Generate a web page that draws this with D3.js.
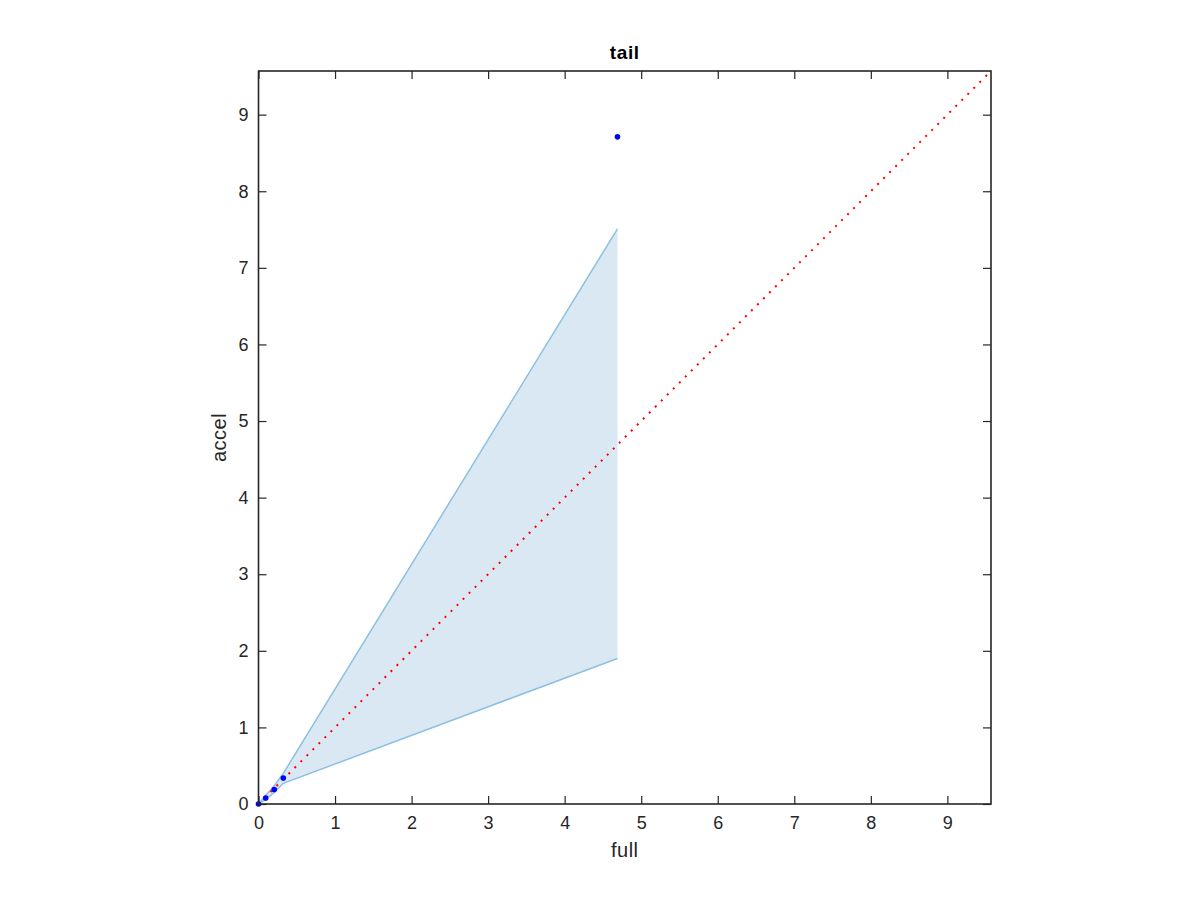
<!DOCTYPE html>
<html><head><meta charset="utf-8">
<script src="https://cdn.jsdelivr.net/npm/d3@7"></script>
<style>body{margin:0;background:#fff;} text{font-family:"Liberation Sans",Arial,Helvetica,sans-serif;}</style>
</head><body><svg id="c" width="1200" height="900"></svg>
<script>
const title = "tail";
const xLabel = "full";
const yLabel = "accel";
const axisMax = 9.57;
const tickValues = [0,1,2,3,4,5,6,7,8,9];
// scatter points
const pointX = [0, 0.094, 0.206, 0.324, 4.69];
const pointY = [0, 0.078, 0.19, 0.34, 8.71];
// band bounds
const bandX = [0, 0.094, 0.206, 0.324, 4.69];
const bandUpper = [0, 0.11, 0.24, 0.40, 7.51];
const bandLower = [0, 0.06, 0.15, 0.27, 1.90];

const svg = d3.select("#c");
const L = 258.5, R = 991, T = 71, B = 804;
const x = d3.scaleLinear().domain([0, axisMax]).range([L, R]);
const y = d3.scaleLinear().domain([0, axisMax]).range([B, T]);
const axisCol = "#262626";

// band fill
const bandPts = bandX.map((v,i)=>[v, bandUpper[i]]).concat(bandX.map((v,i)=>[v, bandLower[i]]).reverse());
svg.append("path")
  .attr("d", d3.line().x(d=>x(d[0])).y(d=>y(d[1]))(bandPts) + "Z")
  .attr("fill", "#dae8f4").attr("stroke", "none");
const edge = d3.line().x(d=>x(d[0])).y(d=>y(d[1]));
svg.append("path").attr("d", edge(bandX.map((v,i)=>[v,bandUpper[i]])))
  .attr("fill","none").attr("stroke","#8cc0e0").attr("stroke-width",1.5);
svg.append("path").attr("d", edge(bandX.map((v,i)=>[v,bandLower[i]])))
  .attr("fill","none").attr("stroke","#8cc0e0").attr("stroke-width",1.5);

// identity dotted line
svg.append("path").attr("d", edge([[0,0],[axisMax,axisMax]]))
  .attr("fill","none").attr("stroke","#ff0000").attr("stroke-width",2)
  .attr("stroke-dasharray","2,6.5");

// points
svg.selectAll("circle.p").data(pointX.map((v,i)=>[v,pointY[i]])).enter()
  .append("circle").attr("cx",d=>x(d[0])).attr("cy",d=>y(d[1])).attr("r",2.8)
  .attr("fill","#0000ff");

// axes
const tl = 8;
const gB = svg.append("g").attr("transform",`translate(0,${B})`)
  .call(d3.axisBottom(x).tickValues(tickValues).tickSize(-tl).tickPadding(12).tickFormat(d3.format("d")));
const gT = svg.append("g").attr("transform",`translate(0,${T})`)
  .call(d3.axisTop(x).tickValues(tickValues).tickSize(-tl).tickFormat(""));
const gL = svg.append("g").attr("transform",`translate(${L},0)`)
  .call(d3.axisLeft(y).tickValues(tickValues).tickSize(-tl).tickPadding(10).tickFormat(d3.format("d")));
const gR = svg.append("g").attr("transform",`translate(${R},0)`)
  .call(d3.axisRight(y).tickValues(tickValues).tickSize(-tl).tickFormat(""));
[gB,gT,gL,gR].forEach(g=>{
  g.select(".domain").remove();
  g.selectAll("line").attr("stroke",axisCol).attr("stroke-width",1.2);
  g.selectAll("text").attr("fill",axisCol).style("font-size","18px")
   .style("font-family",'"Liberation Sans",Arial,sans-serif');
});
svg.append("rect").attr("x",L).attr("y",T).attr("width",R-L).attr("height",B-T)
  .attr("fill","none").attr("stroke",axisCol).attr("stroke-width",1.6);

svg.append("text").attr("x",(L+R)/2).attr("y",58.5).attr("text-anchor","middle")
  .style("font-size","19px").style("font-weight","bold").style("letter-spacing","0.6px")
  .attr("fill","#000").text(title);
svg.append("text").attr("x",(L+R)/2).attr("y",856.5).attr("text-anchor","middle")
  .style("font-size","20px").style("letter-spacing","0.5px").attr("fill",axisCol).text(xLabel);
svg.append("text").attr("transform",`translate(225.5,${(T+B)/2}) rotate(-90)`).attr("text-anchor","middle")
  .style("font-size","20px").style("letter-spacing","0.5px").attr("fill",axisCol).text(yLabel);
</script></body></html>
